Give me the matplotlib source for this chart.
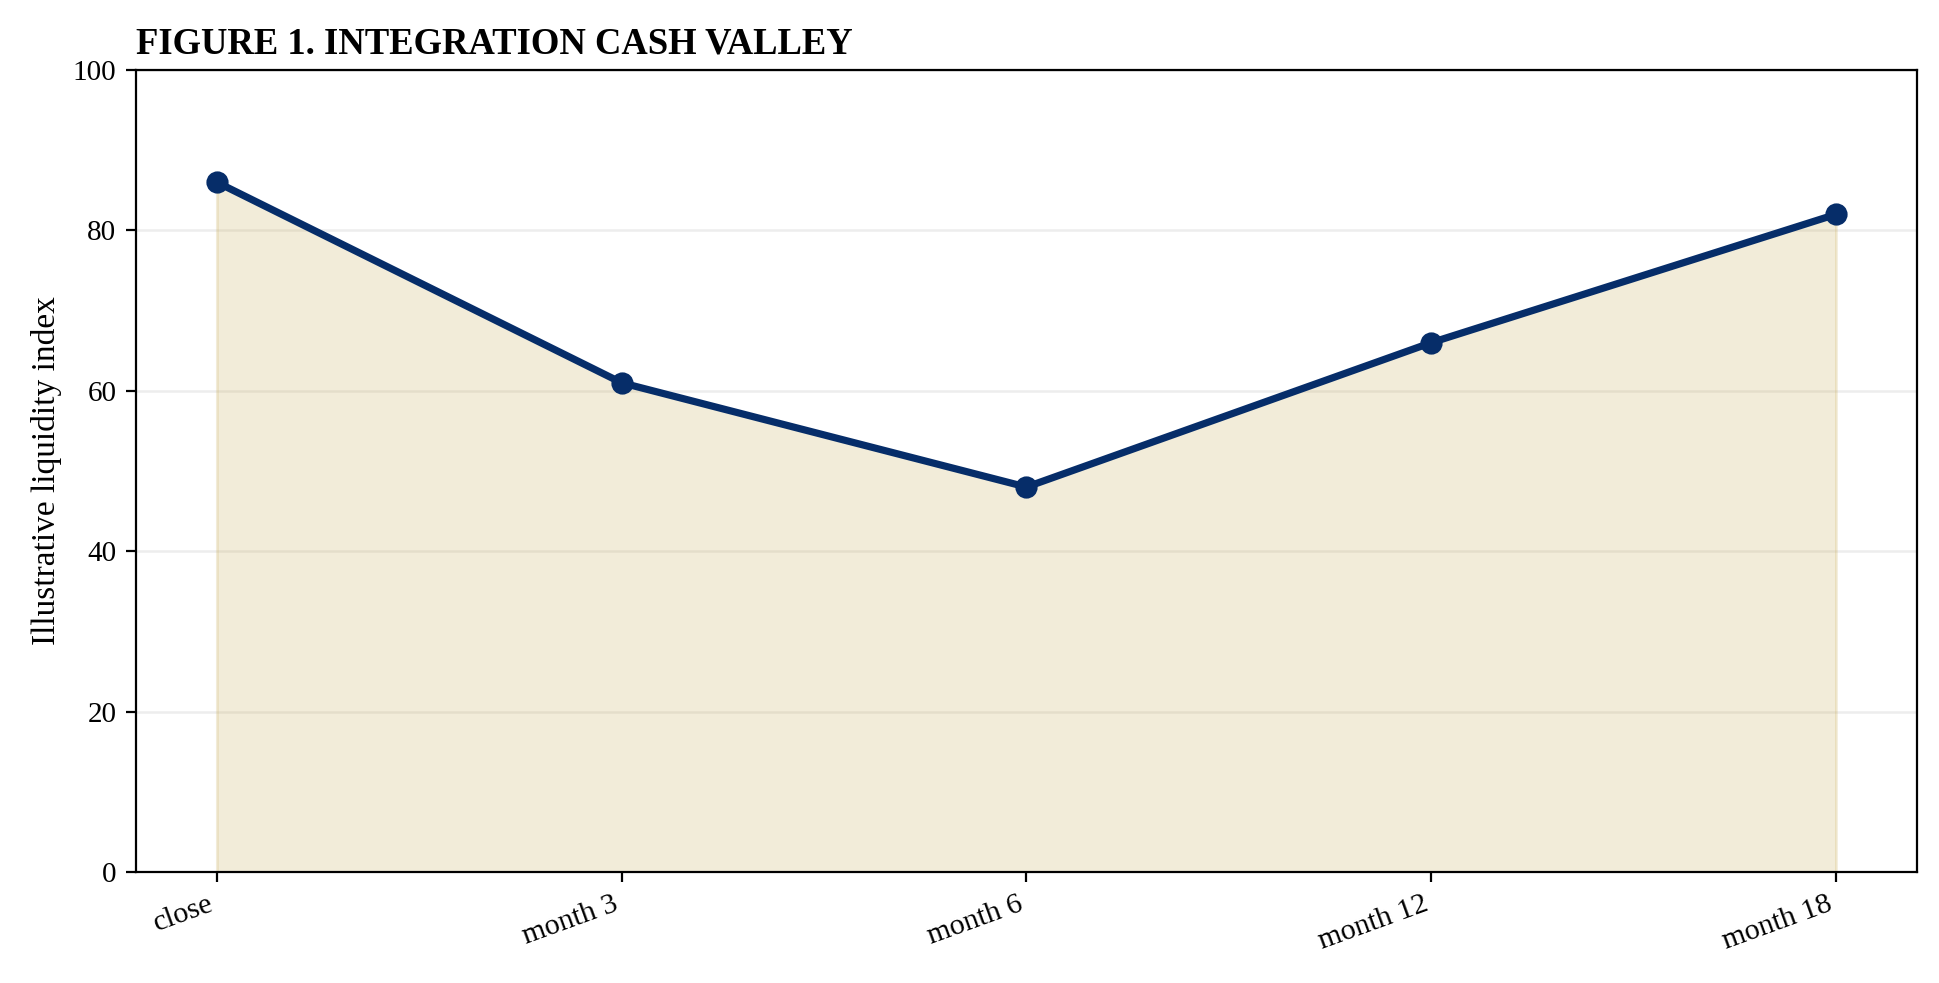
import matplotlib
matplotlib.use("Agg")
import matplotlib.pyplot as plt

# data
stages = ["close", "month 3", "month 6", "month 12", "month 18"]
liquidity = [86, 61, 48, 66, 82]

plt.rcParams["font.family"] = ["Liberation Serif", "DejaVu Serif"]

fig = plt.figure(figsize=(9.695, 4.915), dpi=200)
ax = fig.add_axes([0.0701, 0.1129, 0.9185, 0.8159])

x = list(range(len(stages)))
ax.fill_between(x, liquidity, 0, color="#c8aa52", alpha=0.22, zorder=1)
ax.plot(x, liquidity, color="#062d69", lw=2.6, marker="o", ms=7, zorder=3)

ax.set_ylim(0, 100)
ax.set_xticks(x)
ax.set_xticklabels(stages, rotation=20, ha="right", fontsize=10.8)
ax.tick_params(axis="y", labelsize=10.5)
ax.set_ylabel("Illustrative liquidity index", fontsize=12)
ax.set_title("FIGURE 1. INTEGRATION CASH VALLEY", loc="left",
             fontweight="bold", fontsize=13.2)
ax.grid(axis="y", color="#e2e2e2", alpha=0.6, lw=0.9)
ax.set_axisbelow(True)

fig.savefig("out.png", dpi=200)
